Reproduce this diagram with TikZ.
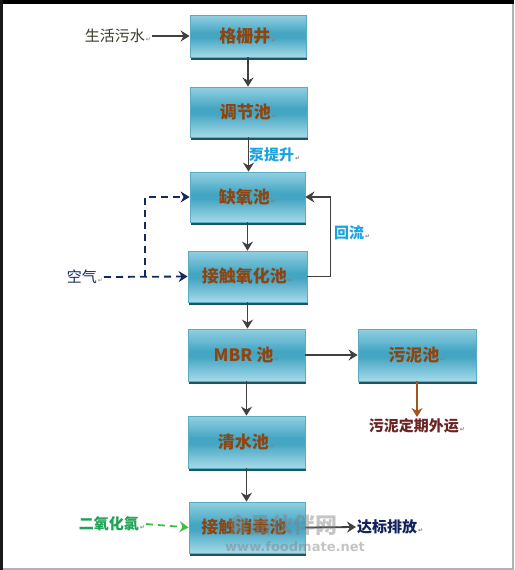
\documentclass[tikz,border=0pt]{standalone}
\usepackage{fontspec}
\newfontfamily\cjk{Noto Sans CJK SC}
\newfontfamily\dvs{DejaVu Sans}
\usetikzlibrary{arrows.meta,shadows}
\definecolor{boxtop}{HTML}{92D0E2}
\definecolor{boxmid}{HTML}{45A6C3}
\definecolor{boxbot}{HTML}{A6DAE8}
\definecolor{boxline}{HTML}{58ACC4}
\definecolor{boxshadow}{HTML}{1E5565}
\definecolor{boxtext}{HTML}{8E4512}
\definecolor{arrgray}{HTML}{404040}
\definecolor{pumpblue}{HTML}{1AA3DF}
\definecolor{airnavy}{HTML}{14295E}
\definecolor{sludgebrown}{HTML}{A5541A}
\definecolor{sludgetext}{HTML}{6A2424}
\definecolor{clgreen}{HTML}{1EA455}
\definecolor{cldash}{HTML}{3CC043}
\definecolor{outnavy}{HTML}{13215C}
\definecolor{rawtext}{HTML}{3A3A2A}
\pgfdeclareverticalshading{tankshade}{100bp}{color(0bp)=(boxbot); color(25bp)=(boxbot); color(48bp)=(boxmid); color(54bp)=(boxmid); color(75bp)=(boxtop); color(100bp)=(boxtop)}
\newcommand{\retmark}{{\dvs\fontsize{6}{6}\selectfont\color{gray}\,↵}}
\tikzset{
  x=1pt, y=-1pt,
  tank/.style={draw=boxline, line width=0.8pt, shading=tankshade,
    drop shadow={shadow xshift=1pt, shadow yshift=-3pt, fill=boxshadow, opacity=1},
    font=\cjk\bfseries\fontsize{17}{17}\selectfont, text=boxtext, inner sep=0pt},
  side/.style={font=\cjk\fontsize{15}{15}\selectfont, inner sep=1pt},
  bside/.style={font=\cjk\bfseries\fontsize{15}{15}\selectfont, inner sep=1pt},
  flow/.style={draw=arrgray, line width=1.8pt, -{Stealth[length=9pt,width=11pt,inset=3pt]}},
  airline/.style={draw=airnavy, line width=1.8pt, dash pattern=on 7pt off 5pt},
  airflow/.style={airline, -{Stealth[length=9pt,width=11pt,inset=3pt]}},
}
\begin{document}
\begin{tikzpicture}
\useasboundingbox (0,0) rectangle (514,570);
\fill[white] (0,0) rectangle (514,570);
% frame
\draw[color=black!30, line width=2pt] (0,569) -- (513,569) -- (513,0);
\draw[black, line width=4pt] (0,2) -- (514,2);
\draw[black!90, line width=3pt] (1.5,0) -- (1.5,570);

% tanks
\node[tank, minimum width=116pt, minimum height=42pt] (b1) at (248,36) {格栅井\retmark};
\node[tank, minimum width=117pt, minimum height=50pt] (b2) at (248.5,112) {调节池\retmark};
\node[tank, minimum width=115pt, minimum height=50pt] (b3) at (247.5,197) {缺氧池\retmark};
\node[tank, minimum width=119pt, minimum height=51pt] (b4) at (247.5,276.5) {接触氧化池\retmark};
\node[tank, minimum width=117pt, minimum height=52pt] (b5) at (246.5,355) {MBR 池\retmark};
\node[tank, minimum width=118pt, minimum height=52pt] (b6) at (417,355) {污泥池\retmark};
\node[tank, minimum width=117pt, minimum height=52pt] (b7) at (246.5,442) {清水池\retmark};
\node[tank, minimum width=116pt, minimum height=51pt] (b8) at (247,527.5) {接触消毒池\retmark};

% side labels
\node[side, text=rawtext, anchor=east] (raw) at (152,36) {生活污水\retmark};
\node[bside, text=pumpblue, anchor=west] (pump) at (248,155) {泵提升\retmark};
\node[bside, text=pumpblue, anchor=west] (ret) at (333,233) {回流\retmark};
\node[side, text=airnavy, anchor=east] (air) at (104,277) {空气\retmark};
\node[bside, text=sludgetext, anchor=north] (out) at (417,417) {污泥定期外运\retmark};
\node[bside, text=clgreen, anchor=east] (clo) at (146,524) {二氧化氯\retmark};
\node[bside, text=outnavy, anchor=west] (dis) at (356,527) {达标排放\retmark};

% main flow
\draw[flow] (raw.east) -- (b1.west);
\draw[flow] (b1.south) -- (b1.south |- b2.north);
\draw[flow] (b2.south) -- (b2.south |- b3.north);
\draw[flow] (b3.south) -- (b3.south |- b4.north);
\draw[flow] (b4.south) -- (b4.south |- b5.north);
\draw[flow] (b5.south) -- (b5.south |- b7.north);
\draw[flow] (b7.south) -- (b7.south |- b8.north);
\draw[flow] (b5.east) -- (b6.west);
\draw[flow] (b8.east) -- (dis.west);
\draw[flow] (b4.east) -- ++(23,0) |- (b3.east);
\draw[draw=sludgebrown, line width=1.8pt, -{Stealth[length=9pt,width=11pt,inset=3pt]}] (b6.south) -- (out.north);

% air
\coordinate (split) at (145,277);
\draw[airflow] (air.east) -- (b4.west);
\draw[airflow] (split) |- (b3.west);

% chlorine dioxide
\draw[draw=cldash, line width=1.8pt, dash pattern=on 7pt off 5pt, -{Stealth[length=9pt,width=11pt,inset=3pt]}] (clo.east) -- (b8.west);

% watermark
\node[font=\cjk\bfseries\fontsize{22}{22}\selectfont, text=gray, opacity=0.45] (wm1) at (282,525) {食品伙伴网};
\node[font=\dvs\bfseries\fontsize{13}{13}\selectfont, text=gray, opacity=0.45] (wm2) at (295,547) {www.foodmate.net};
\end{tikzpicture}
\end{document}
